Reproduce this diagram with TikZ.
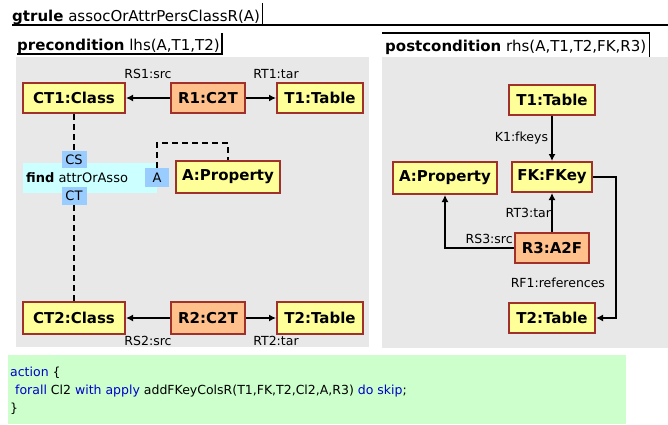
\documentclass[tikz,border=0pt]{standalone}
\usepackage{fontspec}
\setmainfont{DejaVu Sans}
\usetikzlibrary{arrows.meta}
\definecolor{clsfill}{HTML}{FFFF99}
\definecolor{clsdraw}{HTML}{A0302A}
\definecolor{relfill}{HTML}{FFC08C}
\definecolor{panel}{HTML}{E8E8E8}
\definecolor{findbg}{HTML}{CCFFFF}
\definecolor{portbg}{HTML}{99CCFF}
\definecolor{actbg}{HTML}{CCFFCC}
\definecolor{kw}{HTML}{0000CC}
\newcommand\kw[1]{\textcolor{kw}{#1}}
\begin{document}
\begin{tikzpicture}[x=1pt, y=-1pt, % Pixel wie im Bild, y nach unten
    cls/.style={draw=clsdraw, fill=clsfill, line width=2pt, inner sep=0pt,
      minimum height=30pt, font=\bfseries\fontsize{15}{15}\selectfont},
    rel/.style={cls, fill=relfill},
    port/.style={fill=portbg, inner sep=0pt, minimum width=25pt,
      minimum height=17pt, font=\fontsize{13}{13}\selectfont},
    lbl/.style={inner sep=1pt, font=\fontsize{12.5}{12.5}\selectfont},
    link/.style={line width=2pt, -{Latex[length=7pt,width=7pt]}},
    tie/.style={line width=2pt, dash pattern=on 6pt off 4pt},
    head/.style={anchor=base west, inner sep=0pt, font=\fontsize{15}{15}\selectfont}]
  \useasboundingbox (0,0) rectangle (668,424);
  % Kopf der Regel
  \node[head] (title) at (12,21) {\textbf{gtrule} assocOrAttrPersClassR(A)};
  \coordinate (tbar) at ([xshift=2pt]title.east);
  \draw[line width=1.2pt] (12,25) -- (668,25);
  \draw[line width=1.2pt] (tbar |- 0,3) -- (tbar |- 0,25);
  % Hintergruende
  \fill[panel] (16,57) rectangle (369,347);
  \fill[panel] (382,57) rectangle (668,348);
  \fill[actbg] (8,355) rectangle (626,424);
  % linke Seite: precondition
  \node[head] (pre) at (17,50) {\textbf{precondition} lhs(A,T1,T2)};
  \coordinate (pbar) at ([xshift=2pt]pre.east);
  \draw[line width=1.2pt] (17,54) -- (pbar |- 0,54) -- (pbar |- 0,33);
  \node[cls, minimum width=102pt] (CT1) at (74,98) {CT1:Class};
  \node[rel, minimum width=74pt] (R1) at (208,98) {R1:C2T};
  \node[cls, minimum width=86pt] (T1) at (320,98) {T1:Table};
  \node[cls, minimum width=104pt, minimum height=32pt] (Aprop) at (228,177) {A:Property};
  \node[cls, minimum width=102pt, minimum height=32pt] (CT2) at (74,318) {CT2:Class};
  \node[rel, minimum width=74pt, minimum height=32pt] (R2) at (208,318) {R2:C2T};
  \node[cls, minimum width=86pt, minimum height=32pt] (T2) at (320,318) {T2:Table};
  % find-Block mit seinen Parametern
  \fill[findbg] (23,163) rectangle (157,193);
  \node[anchor=west, inner sep=0pt, font=\fontsize{13}{13}\selectfont]
    (find) at (26,178) {\textbf{find} attrOrAsso};
  \node[port] (CS) at (74,159.5) {CS};
  \node[port, minimum width=24pt, minimum height=19pt] (Acell) at (157,177.5) {A};
  \node[port, minimum height=18pt] (CT) at (74,196) {CT};
  \draw[tie] (CT1) -- (CS);
  \draw[tie] (CT) -- (CT2);
  \draw[tie] (Acell.north) -- ++(0,-25) -| (Aprop.north);
  \draw[link] (R1) -- node[lbl, above=17pt] {RS1:src} (CT1);
  \draw[link] (R1) -- node[lbl, above=17pt, pos=1] {RT1:tar} (T1);
  \draw[link] (R2) -- node[lbl, below=16pt] {RS2:src} (CT2);
  \draw[link] (R2) -- node[lbl, below=16pt, pos=1] {RT2:tar} (T2);
  % rechte Seite: postcondition
  \node[head] (post) at (385,51) {\textbf{postcondition} rhs(A,T1,T2,FK,R3)};
  \coordinate (qbar) at ([xshift=3pt]post.east);
  \draw[line width=1.2pt] (382,33) -- (qbar |- 0,33) -- (qbar |- 0,57);
  \node[cls, minimum width=86pt] (rT1) at (552,100) {T1:Table};
  \node[cls, minimum width=80pt] (FK) at (552,177) {FK:FKey};
  \node[cls, minimum width=104pt, minimum height=32pt] (rA) at (445,178) {A:Property};
  \node[rel, minimum width=74pt] (R3) at (552,248) {R3:A2F};
  \node[cls, minimum width=86pt] (rT2) at (552,318) {T2:Table};
  \draw[link] (rT1) -- node[lbl, left=2pt] {K1:fkeys} (FK);
  \draw[link] (R3) -- node[lbl, left, inner sep=0pt] {RT3:tar} (FK);
  \draw[link] (R3.west) -| node[lbl, above=2pt, pos=0.18] {RS3:src} (rA);
  \draw[link] (FK.east) -- ++(23,0) |- node[lbl, left=9pt, pos=0.375] {RF1:references} (rT2.east);
  % Aktion
  \begin{scope}[every node/.style={anchor=base west, inner sep=0pt,
      font=\fontsize{12.5}{12.5}\selectfont}]
    \node (act1) at (10,376) {\kw{action} \{};
    \node (act2) at (15,394) {\kw{forall} Cl2 \kw{with} \kw{apply} addFKeyColsR(T1,FK,T2,Cl2,A,R3) \kw{do} \kw{skip};};
    \node (act3) at (10,412) {\}};
  \end{scope}
\end{tikzpicture}
\end{document}
